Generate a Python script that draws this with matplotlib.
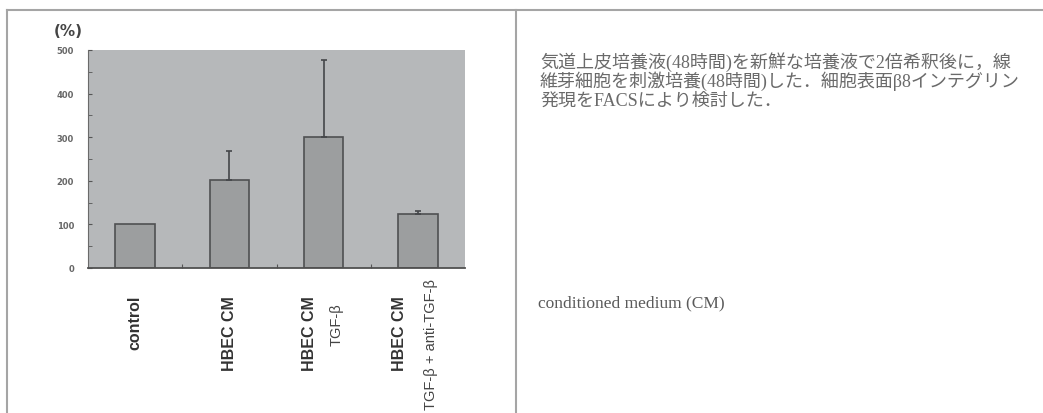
import matplotlib.pyplot as plt
import numpy as np
from matplotlib.lines import Line2D
from matplotlib.transforms import blended_transform_factory

# data
groups = ["control", "HBEC CM", "HBEC CM", "HBEC CM"]
sublabels = ["", "", "TGF-β", "TGF-β + anti-TGF-β"]
values = [100, 202, 300, 124]
errors = [0, 66, 177, 7]
y_ticks = [0, 100, 200, 300, 400, 500]

caption_lines = [
    "気道上皮培養液(48時間)を新鮮な培養液で2倍希釈後に，線",
    "維芽細胞を刺激培養(48時間)した．細胞表面β8インテグリン",
    "発現をFACSにより検討した．",
]
note = "conditioned medium (CM)"

W, H = 1043, 414
fig = plt.figure(figsize=(W / 100, H / 100), dpi=100)
fig.patch.set_facecolor("white")

# table-like frame lines
frame_col = "#a5a5a5"
fig.add_artist(Line2D([7 / W, 1], [1 - 11 / H, 1 - 11 / H], color=frame_col, lw=1.5))
fig.add_artist(Line2D([7 / W, 7 / W], [0, 1 - 11 / H], color=frame_col, lw=1.5))
fig.add_artist(Line2D([516 / W, 516 / W], [0, 1 - 11 / H], color=frame_col, lw=1.5))

ax = fig.add_axes([88 / W, 1 - 269 / H, 377 / W, 218 / H])
ax.set_facecolor("#b6b8ba")

x = np.arange(len(values))
vals = np.array(values)
errs = np.array(errors)
ax.bar(x, vals, width=0.42, color="#9c9e9f", edgecolor="#4f5052", linewidth=1.2, zorder=2)
has_err = errs > 0
ax.errorbar(x[has_err], vals[has_err], yerr=[np.zeros(has_err.sum()), errs[has_err]],
            fmt="none", ecolor="#45474a", elinewidth=1.2, capsize=2.5, capthick=1.2, zorder=3)

ax.set_xlim(-0.5, len(values) - 0.5)
ax.set_ylim(0, 500)
ax.set_yticks(y_ticks)
ax.set_yticks(np.arange(0, 501, 50), minor=True)
ax.tick_params(axis="y", which="both", direction="in", length=3, color="#555555",
               labelsize=6, labelcolor="#666666", pad=10)
for lab in ax.get_yticklabels():
    lab.set_fontweight("bold")
ax.set_xticks(x[:-1] + 0.5)
ax.set_xticklabels([])
ax.tick_params(axis="x", direction="in", length=3, color="#555555")

for s in ["top", "right"]:
    ax.spines[s].set_visible(False)
ax.spines["left"].set_color("#6a6a6a")
ax.spines["bottom"].set_color("#505050")
ax.spines["bottom"].set_linewidth(1.3)

# category labels under the bars
trans = blended_transform_factory(ax.transData, ax.transAxes)
main_dx = [0, 0, -0.15, -0.20]
sub_dx = [0, 0, 0.14, 0.14]
sub_top = [0, 0, -0.156, -0.046]
for i, (g, s) in enumerate(zip(groups, sublabels)):
    ax.text(x[i] + main_dx[i], -0.124, g, transform=trans, rotation=90,
            ha="center", va="top", fontsize=11.5, fontweight="bold",
            color="#333333", family="Liberation Sans")
    if s:
        ax.text(x[i] + sub_dx[i], sub_top[i], s, transform=trans, rotation=90,
                ha="center", va="top", fontsize=10.5, color="#444444",
                family="Liberation Sans")

fig.text(68 / W, 1 - 31 / H, "(%)", ha="center", va="center", fontsize=11,
         fontweight="bold", color="#444444")

# right-hand caption
cap_font = ["Liberation Serif", "Noto Sans CJK JP"]
for k, line in enumerate(caption_lines):
    fig.text(540 / W, 1 - (62 + 19.5 * k) / H, line, ha="left", va="center",
             fontsize=13, color="#6a6a6a", family=cap_font)
fig.text(538 / W, 1 - 303 / H, note, ha="left", va="center", fontsize=12.5,
         color="#5a5a5a", family=cap_font)

fig.savefig("out.png", dpi=100)
